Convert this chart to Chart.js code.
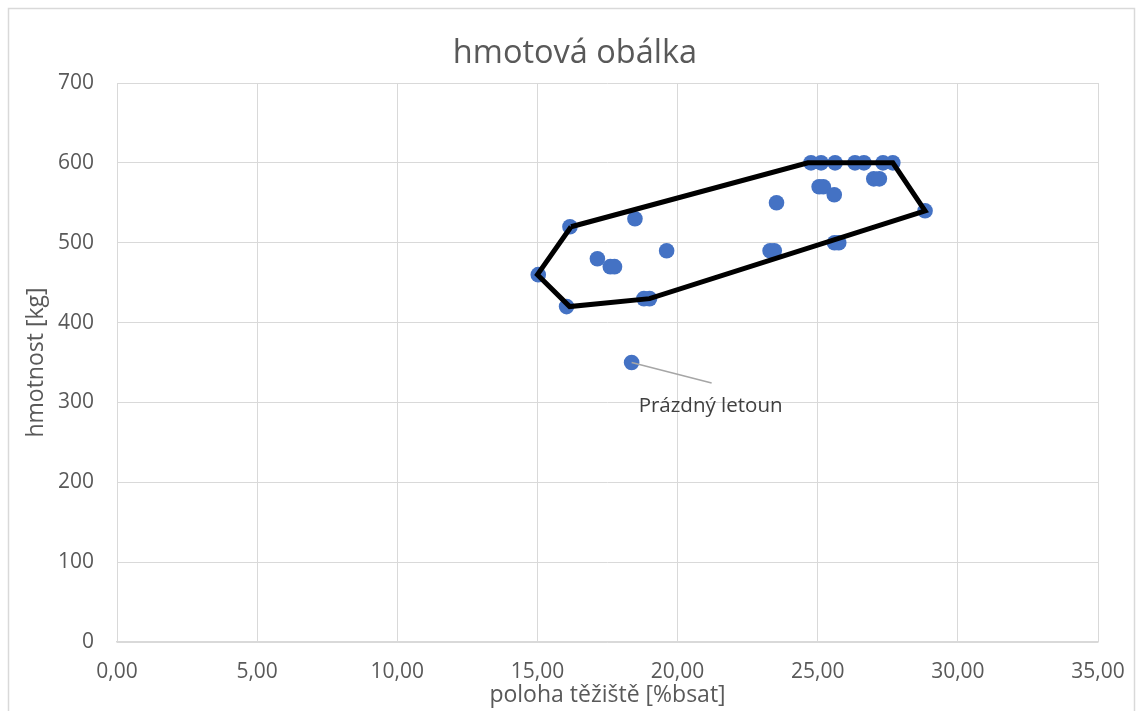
<!DOCTYPE html>
<html>
<head>
<meta charset="utf-8">
<script src="https://cdn.jsdelivr.net/npm/chart.js@4/dist/chart.umd.min.js"></script>
<style>
  html, body { margin: 0; padding: 0; background: #ffffff; }
  #wrap { width: 1139px; height: 711px; position: relative; }
</style>
</head>
<body>
<div id="wrap"><canvas id="c" width="1139" height="711"></canvas></div>
<script>
// Loading configurations: centre of gravity [%bsat] and mass [kg]
const cgPositions = [24.76, 25.12, 25.62, 26.33, 26.65, 27.33, 27.68,
                     27.0, 27.2, 25.05, 25.2, 25.59, 23.53, 28.83, 18.48, 16.16,
                     19.61, 23.3, 23.45, 25.6, 25.75, 17.14, 17.6, 17.75,
                     15.03, 16.04, 18.8, 19.0];
const masses      = [600, 600, 600, 600, 600, 600, 600,
                     580, 580, 570, 570, 560, 550, 540, 530, 520,
                     490, 490, 490, 500, 500, 480, 470, 470,
                     460, 420, 430, 430];

// Empty aircraft
const emptyCg = 18.36;
const emptyMass = 350;
const emptyLabel = 'Prázdný letoun';

// Mass-and-balance envelope (closed polygon)
const envelopeCg   = [16.2, 24.65, 27.68, 28.83, 19.0, 16.15, 15.0, 16.2];
const envelopeMass = [520, 600, 600, 540, 430, 420, 460, 520];

// Axis ticks
const xTicks = [0, 5, 10, 15, 20, 25, 30, 35];
const yTicks = [0, 100, 200, 300, 400, 500, 600, 700];

const chartTitle = 'hmotová obálka';

const FONT = "'Open Sans', 'Liberation Sans', sans-serif";
const TEXT = '#595959';
const GRID = '#d9d9d9';

const pointData = cgPositions.map((x, i) => ({ x, y: masses[i] }));
pointData.push({ x: emptyCg, y: emptyMass });
const envelopeData = envelopeCg.map((x, i) => ({ x, y: envelopeMass[i] }));

// White background, light frame and the chart title centred on the canvas
const framePlugin = {
  id: 'frame',
  beforeDraw(chart) {
    const ctx = chart.ctx;
    ctx.save();
    ctx.fillStyle = '#ffffff';
    ctx.fillRect(0, 0, chart.width, chart.height);
    ctx.strokeStyle = GRID;
    ctx.lineWidth = 1.5;
    ctx.strokeRect(8.5, 8.5, chart.width - 13, chart.height + 20);
    ctx.fillStyle = TEXT;
    ctx.font = "32.5px " + FONT;
    ctx.textAlign = 'center';
    ctx.textBaseline = 'alphabetic';
    ctx.fillText(chartTitle, 575, 63);
    ctx.restore();
  }
};

// Call-out label for the empty aircraft point
const calloutPlugin = {
  id: 'callout',
  afterDatasetsDraw(chart) {
    const xs = chart.scales.x, ys = chart.scales.y;
    const px = xs.getPixelForValue(emptyCg);
    const py = ys.getPixelForValue(emptyMass);
    const ctx = chart.ctx;
    ctx.save();
    ctx.strokeStyle = '#a6a6a6';
    ctx.lineWidth = 1.5;
    ctx.beginPath();
    ctx.moveTo(px, py);
    ctx.lineTo(px + 80, py + 20.5);
    ctx.stroke();
    ctx.fillStyle = '#404040';
    ctx.font = "20.5px " + FONT;
    ctx.textAlign = 'center';
    ctx.textBaseline = 'alphabetic';
    ctx.fillText(emptyLabel, px + 79, py + 49);
    ctx.restore();
  }
};

new Chart(document.getElementById('c'), {
  type: 'scatter',
  data: {
    datasets: [
      {
        label: 'obálka',
        data: envelopeData,
        showLine: true,
        borderColor: '#000000',
        borderWidth: 5,
        pointRadius: 0,
        fill: false,
        tension: 0,
        order: 0
      },
      {
        label: 'hmotnost',
        data: pointData,
        backgroundColor: '#4472C4',
        borderColor: '#4472C4',
        pointRadius: 7.8,
        borderWidth: 0,
        order: 1
      }
    ]
  },
  options: {
    responsive: false,
    animation: false,
    layout: { padding: { top: 83, right: 0, bottom: 0, left: 0 } },
    plugins: {
      legend: { display: false },
      tooltip: { enabled: false },
      title: { display: false }
    },
    scales: {
      x: {
        type: 'linear',
        min: 0, max: 35,
        afterBuildTicks(scale) { scale.ticks = xTicks.map(v => ({ value: v })); },
        afterFit(scale) {
          scale.height = 711 - 642;
          scale.paddingRight = 41;
        },
        ticks: {
          color: TEXT,
          font: { family: FONT, size: 21 },
          padding: 17,
          maxRotation: 0,
          callback: v => v.toFixed(2).replace('.', ',')
        },
        grid: { color: GRID, lineWidth: 1, drawTicks: false },
        border: { color: GRID, width: 1.5 },
        title: {
          display: true,
          text: 'poloha těžiště [%bsat]',
          color: TEXT,
          font: { family: FONT, size: 23 },
          padding: { top: 2, bottom: 2 }
        }
      },
      y: {
        type: 'linear',
        min: 0, max: 700,
        afterBuildTicks(scale) { scale.ticks = yTicks.map(v => ({ value: v })); },
        afterFit(scale) { scale.width = 117; },
        ticks: {
          color: TEXT,
          font: { family: FONT, size: 21 },
          padding: 23
        },
        grid: { color: GRID, lineWidth: 1, drawTicks: false },
        border: { display: false },
        title: {
          display: true,
          text: 'hmotnost [kg]',
          color: TEXT,
          font: { family: FONT, size: 23 },
          padding: { top: 23, bottom: 0 }
        }
      }
    }
  },
  plugins: [framePlugin, calloutPlugin]
});
</script>
</body>
</html>
